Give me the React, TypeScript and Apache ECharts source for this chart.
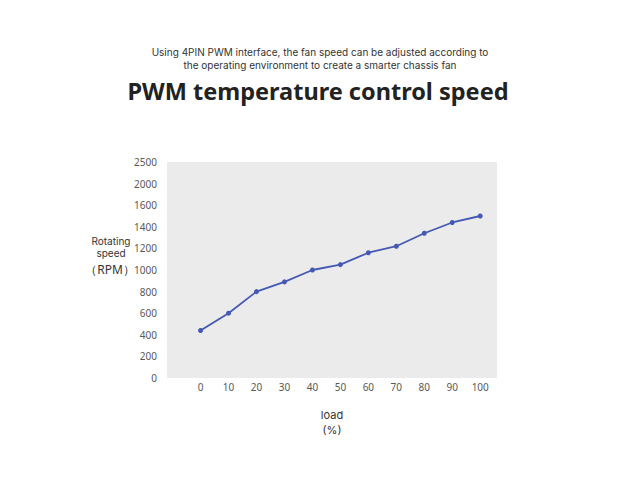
import { useEffect, useRef } from "react";
import * as echarts from "echarts";

// load (%) on the x axis
const loadSteps = [0, 10, 20, 30, 40, 50, 60, 70, 80, 90, 100];
// rotating speed (RPM)
const rpmValues = [440, 600, 800, 890, 1000, 1050, 1160, 1220, 1340, 1440, 1500];
// the y labels as printed (the top two are not evenly spaced in the source)
const yTickValues = [0, 200, 400, 600, 800, 1000, 1200, 1400, 1600, 1800, 2000];
const yTickLabels = ["0", "200", "400", "600", "800", "1000", "1200", "1400", "1600", "2000", "2500"];

const subtitleLines = [
  "Using 4PIN PWM interface, the fan speed can be adjusted according to",
  "the operating environment to create a smarter chassis fan",
];
const titleText = "PWM temperature control speed";

const FONT = "'Noto Sans', 'Open Sans', sans-serif";
const SMALL_FONT = "Inter, 'Noto Sans', sans-serif";

function App() {
  const chartRef = useRef<HTMLDivElement>(null);

  useEffect(() => {
    if (!chartRef.current) return;
    document.body.style.margin = "0";
    const myChart = echarts.init(chartRef.current, null, { renderer: "svg" });

    const option = {
      animation: false,
      backgroundColor: "#ffffff",
      textStyle: { fontFamily: FONT },
      graphic: [
        {
          type: "text",
          x: 320,
          y: 58,
          style: {
            text: subtitleLines.join("\n"),
            textAlign: "center",
            textVerticalAlign: "middle",
            lineHeight: 13,
            fill: "#333333",
            font: `10px ${SMALL_FONT}`,
          },
        },
        {
          type: "text",
          x: 318,
          y: 91,
          style: {
            text: titleText,
            textAlign: "center",
            textVerticalAlign: "middle",
            fill: "#222222",
            font: `bold 23.5px ${FONT}`,
          },
        },
        {
          type: "text",
          x: 111,
          y: 247,
          style: {
            text: "Rotating\nspeed",
            textAlign: "center",
            textVerticalAlign: "middle",
            lineHeight: 12.5,
            fill: "#333333",
            font: `10px ${SMALL_FONT}`,
          },
        },
        {
          type: "text",
          x: 110,
          y: 269,
          style: {
            text: "（RPM）",
            textAlign: "center",
            textVerticalAlign: "middle",
            fill: "#333333",
            font: `12px ${FONT}`,
          },
        },
        {
          type: "text",
          x: 332,
          y: 422,
          style: {
            text: "load\n(%)",
            textAlign: "center",
            textVerticalAlign: "middle",
            lineHeight: 15,
            fill: "#333333",
            font: `11px ${SMALL_FONT}`,
          },
        },
      ],
      grid: {
        left: 167,
        right: 143,
        top: 162,
        bottom: 102,
        show: true,
        backgroundColor: "#ebebeb",
        borderWidth: 0,
      },
      xAxis: {
        type: "value",
        min: -12,
        max: 106,
        axisLine: { show: false },
        axisTick: { show: false },
        splitLine: { show: false },
        axisLabel: {
          customValues: loadSteps,
          color: "#595959",
          fontSize: 10,
          margin: 4,
          fontFamily: FONT,
        },
      },
      yAxis: {
        type: "value",
        min: 0,
        max: 2000,
        interval: 200,
        axisLine: { show: false },
        axisTick: { show: false },
        splitLine: { show: false },
        axisLabel: {
          color: "#595959",
          fontSize: 10,
          margin: 10,
          fontFamily: FONT,
          formatter: (v: number) => {
            const i = yTickValues.indexOf(v);
            return i >= 0 ? yTickLabels[i] : "";
          },
        },
      },
      series: [
        {
          type: "line",
          data: loadSteps.map((x, i) => [x, rpmValues[i]]),
          symbol: "circle",
          symbolSize: 5,
          lineStyle: { color: "#4558b4", width: 1.8 },
          itemStyle: { color: "#4558b4" },
        },
      ],
    };

    myChart.setOption(option, true);

    return () => {
      myChart.dispose();
    };
  }, []);

  return <div ref={chartRef} style={{ width: 640, height: 480 }} />;
}

export default App;
